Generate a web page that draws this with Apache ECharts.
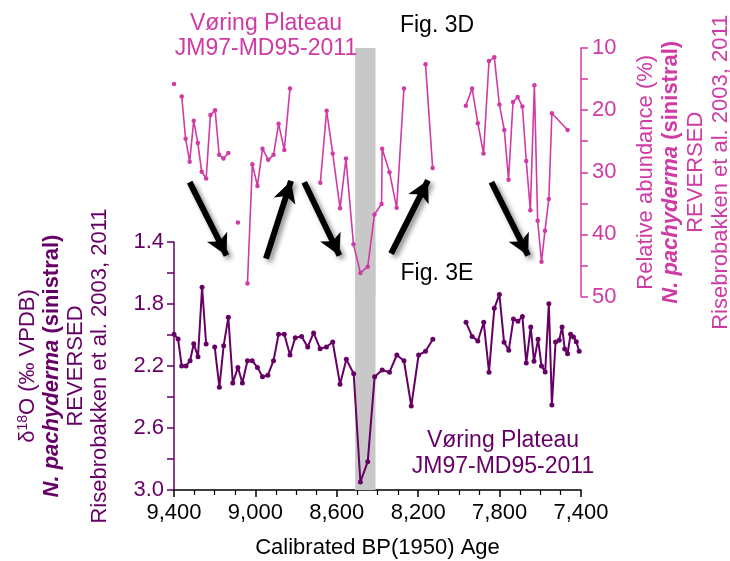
<!DOCTYPE html>
<html><head><meta charset="utf-8">
<script src="https://cdn.jsdelivr.net/npm/echarts@6/dist/echarts.min.js"></script>
<style>html,body{margin:0;padding:0;background:#fff}#c{width:730px;height:561px}</style>
</head><body><div id="c"></div>
<script>
// Top record: N. pachyderma (sinistral) relative abundance (%), null = gap in record
const topYears = [9400, 9380, 9362, 9343, 9323, 9303, 9283, 9264, 9242, 9221, 9198, 9178, 9157, 9133, 9110, 9086, 9062,
  9039, 9015, 8990, 8965, 8937, 8911, 8886, 8858, 8830, 8750,
  8681, 8650, 8620, 8584, 8555, 8518, 8484, 8448, 8415, 8380, 8377, 8341, 8306, 8270, 8220,
  8164, 8129, 8050,
  7966, 7935, 7907, 7879, 7852, 7826, 7801, 7777, 7756, 7734, 7711, 7688, 7669, 7649, 7629, 7613, 7594, 7577, 7558, 7543, 7466];
const topVals = [15.8, null, 17.8, 24.6, 28.3, 21.7, 25.3, 29.9, 31.0, 20.8, 20.0, 27.2, 27.8, 26.9, null, 38.1, null,
  47.9, 28.7, 32.2, 26.2, 28.0, 27.2, 22.2, 26.4, 16.5, null,
  31.7, 20.1, 27.0, 35.8, 27.8, 41.6, 46.2, 45.2, 36.8, 35.1, 26.2, 30.0, 35.7, 16.5, null,
  12.6, 29.3, null,
  19.3, 16.5, 22.1, 27.0, 12.1, 11.5, 19.1, 23.2, 31.2, 18.7, 17.9, 19.4, 28.2, 36.1, 16.0, 37.8, 44.4, 39.4, 34.3, 20.5, 23.2];

// Bottom record: d18O (permil VPDB), null = gap in record
const botYears = [9400, 9380, 9362, 9341, 9321, 9303, 9282, 9262, 9242, 9220,
  9200, 9177, 9156, 9133, 9111, 9086, 9064, 9039, 9016, 8990, 8965, 8939, 8911, 8886, 8858, 8830, 8804, 8773, 8743, 8714,
  8682, 8651, 8620, 8584, 8553, 8517, 8484, 8448, 8414, 8377, 8341, 8305, 8270, 8234, 8198, 8164, 8128, 8050,
  7965, 7935, 7907, 7878, 7852, 7826, 7801, 7778, 7755, 7732, 7710, 7688, 7669, 7647, 7631, 7611, 7594, 7576, 7558, 7543,
  7525, 7507, 7493, 7480, 7466, 7451, 7437, 7423, 7409];
const botVals = [1.995, 2.026, 2.20, 2.20, 2.166, 2.056, 2.14, 1.692, 2.058, null,
  2.077, 2.337, 2.069, 1.886, 2.31, 2.209, 2.31, 2.166, 2.166, 2.209, 2.269, 2.26, 2.166, 1.995, 1.995, 2.129, 2.017, 2.009, 2.077, 1.987,
  2.088, 2.077, 2.045, 2.318, 2.157, 2.25, 2.948, 2.817, 2.269, 2.226, 2.24, 2.129, 2.166, 2.458, 2.129, 2.105, 2.028, null,
  1.918, 2.009, 2.039, 1.918, 2.24, 1.828, 1.738, 2.047, 2.099, 1.897, 1.912, 1.88, 2.181, 1.948, 2.17, 2.028, 2.20, 2.239, 1.798, 2.452,
  2.045, 2.034, 1.948, 2.09, 2.121, 1.995, 2.013, 2.043, 2.105];

const bandYears = [8510, 8410];
// arrows drawn in top-panel data space: [start, end]
const arrowStarts = [[9323, 31.6], [8948, 43.9], [8760, 31.6], [8333, 43.1], [7840, 31.6]];
const arrowEnds = [[9142, 43.4], [8825, 31.4], [8587, 43.4], [8152, 31.3], [7660, 43.4]];

const PINK = '#d03aa4';
const PURPLE = '#660066';
const FONT = '"Liberation Sans", Arial, sans-serif';

const toData = (ys, vs) => ys.map((y, i) => [y, vs[i] == null ? '-' : vs[i]]);

const chart = echarts.init(document.getElementById('c'), null, {renderer: 'canvas'});

const richFor = (color, lh) => ({
  n: {fontSize: 22, fontFamily: FONT, color: color, lineHeight: lh, verticalAlign: 'middle'},
  sup: {fontSize: 14, fontFamily: FONT, color: color, lineHeight: 14, verticalAlign: 'top'},
  bi: {fontSize: 22, fontFamily: FONT, color: color, fontWeight: 'bold', fontStyle: 'italic', lineHeight: lh},
  b: {fontSize: 22, fontFamily: FONT, color: color, fontWeight: 'bold', lineHeight: lh}
});

const option = {
  animation: false,
  backgroundColor: '#fff',
  grid: [
    {left: 174, width: 407, top: 48, height: 248.5, containLabel: false, outerBoundsMode: 'none'},
    {left: 174, width: 407, top: 242, height: 248, containLabel: false, outerBoundsMode: 'none'}
  ],
  xAxis: [
    {gridIndex: 0, type: 'value', min: 7400, max: 9400, inverse: true, show: false},
    {gridIndex: 1, type: 'value', min: 7400, max: 9400, interval: 400, inverse: true,
      axisLine: {lineStyle: {color: '#000', width: 1.5}},
      axisTick: {show: true, length: 7, lineStyle: {color: '#000', width: 1.5}},
      minorTick: {show: true, splitNumber: 4, length: 5, lineStyle: {color: '#000', width: 1.2}},
      splitLine: {show: false},
      axisLabel: {color: '#000', fontSize: 22, fontFamily: FONT, margin: 12,
        formatter: v => v.toLocaleString('en-US')},
      name: 'Calibrated BP(1950) Age', nameLocation: 'middle', nameGap: 47,
      nameTextStyle: {color: '#000', fontSize: 22, fontFamily: FONT}
    }
  ],
  yAxis: [
    {gridIndex: 0, type: 'value', position: 'right', min: 10, max: 50, interval: 10, inverse: true,
      axisLine: {show: true, lineStyle: {color: PINK, width: 1.5}},
      axisTick: {show: true, length: 7, lineStyle: {color: PINK, width: 1.5}},
      minorTick: {show: true, splitNumber: 2, length: 7, lineStyle: {color: PINK, width: 1.5}},
      splitLine: {show: false},
      axisLabel: {color: PINK, fontSize: 22, fontFamily: FONT, margin: 11},
      name: '{n|Relative abundance (%)}\n{bi|N. pachyderma}{b| (sinistral)}\n{n|REVERSED}\n{n|Risebrobakken et al. 2003, 2011}',
      nameLocation: 'middle', nameRotate: 90, nameGap: 52,
      nameTextStyle: {color: PINK, fontSize: 22, fontFamily: FONT, lineHeight: 25, rich: richFor(PINK, 25)}
    },
    {gridIndex: 1, type: 'value', position: 'left', min: 1.4, max: 3.0, interval: 0.4, inverse: true,
      axisLine: {show: true, lineStyle: {color: PURPLE, width: 1.5}},
      axisTick: {show: true, length: 7, lineStyle: {color: PURPLE, width: 1.5}},
      minorTick: {show: true, splitNumber: 2, length: 7, lineStyle: {color: PURPLE, width: 1.5}},
      splitLine: {show: false},
      axisLabel: {color: PURPLE, fontSize: 22, fontFamily: FONT, margin: 10, formatter: v => v.toFixed(1)},
      name: '{n|δ}{sup|18}{n|O (‰ VPDB)}\n{bi|N. pachyderma}{b| (sinistral)}\n{n|REVERSED}\n{n|Risebrobakken et al. 2003, 2011}',
      nameLocation: 'middle', nameRotate: 90, nameGap: 62,
      nameTextStyle: {color: PURPLE, fontSize: 22, fontFamily: FONT, lineHeight: 24, rich: richFor(PURPLE, 24)}
    }
  ],
  series: [
    {type: 'line', xAxisIndex: 0, yAxisIndex: 0, data: [], z: 1, silent: true,
      markArea: {silent: true, itemStyle: {color: '#c8c8c8'}, label: {show: false},
        data: [[{xAxis: bandYears[0], yAxis: 10}, {xAxis: bandYears[1], yAxis: 50}]]}},
    {type: 'line', xAxisIndex: 1, yAxisIndex: 1, data: [], z: 1, silent: true,
      markArea: {silent: true, itemStyle: {color: '#c8c8c8'}, label: {show: false},
        data: [[{xAxis: bandYears[0], yAxis: 1.4}, {xAxis: bandYears[1], yAxis: 3.0}]]}},
    {type: 'line', name: 'abundance', xAxisIndex: 0, yAxisIndex: 0, z: 5,
      data: toData(topYears, topVals), connectNulls: false,
      symbol: 'circle', symbolSize: 4.5, showSymbol: true,
      lineStyle: {color: PINK, width: 1.6}, itemStyle: {color: PINK},
      markLine: {silent: true, symbol: ['none', 'arrow'], symbolSize: [17, 21], precision: 4,
        label: {show: false},
        lineStyle: {color: '#000', width: 6, type: 'solid', shadowColor: 'rgba(0,0,0,0.45)', shadowBlur: 5, shadowOffsetX: 3, shadowOffsetY: 3},
        data: arrowStarts.map((s, i) => [{coord: s}, {coord: arrowEnds[i]}])}
    },
    {type: 'line', name: 'd18O', xAxisIndex: 1, yAxisIndex: 1, z: 5,
      data: toData(botYears, botVals), connectNulls: false,
      symbol: 'circle', symbolSize: 5, showSymbol: true,
      lineStyle: {color: PURPLE, width: 2}, itemStyle: {color: PURPLE}}
  ],
  graphic: [
    {type: 'text', x: 266, y: 36, z: 100, style: {text: 'Vøring Plateau\nJM97-MD95-2011', fill: PINK,
      fontSize: 23, fontFamily: FONT, lineHeight: 25, align: 'center', verticalAlign: 'middle', textAlign: 'center', textVerticalAlign: 'middle'}},
    {type: 'text', x: 437, y: 26, z: 100, style: {text: 'Fig. 3D', fill: '#000',
      fontSize: 23, fontFamily: FONT, align: 'center', verticalAlign: 'middle', textAlign: 'center', textVerticalAlign: 'middle'}},
    {type: 'text', x: 437, y: 274, z: 100, style: {text: 'Fig. 3E', fill: '#000',
      fontSize: 23, fontFamily: FONT, align: 'center', verticalAlign: 'middle', textAlign: 'center', textVerticalAlign: 'middle'}},
    {type: 'text', x: 503, y: 454, z: 100, style: {text: 'Vøring Plateau\nJM97-MD95-2011', fill: PURPLE,
      fontSize: 23, fontFamily: FONT, lineHeight: 26, align: 'center', verticalAlign: 'middle', textAlign: 'center', textVerticalAlign: 'middle'}}
  ]
};
chart.setOption(option);
</script>
</body></html>
